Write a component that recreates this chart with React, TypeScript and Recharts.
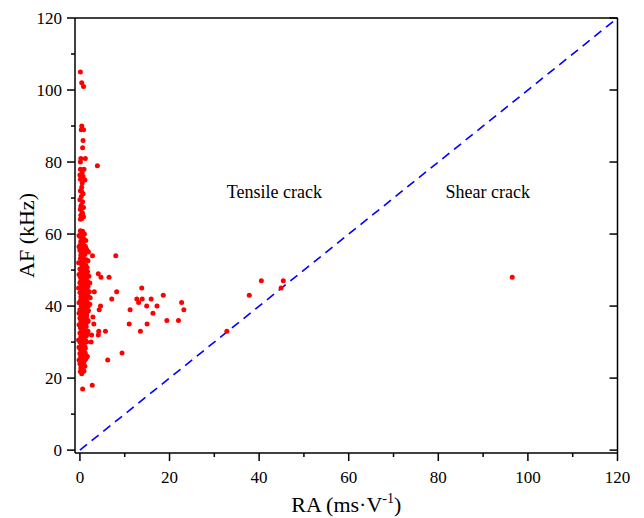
import React from 'react';
import { ScatterChart, Scatter, XAxis, YAxis, ReferenceDot, Label } from 'recharts';

const FONT = '"Liberation Serif", "Times New Roman", serif';

// tick values
const majorTicks = [0, 20, 40, 60, 80, 100, 120];
const allTicks = [0, 10, 20, 30, 40, 50, 60, 70, 80, 90, 100, 110, 120];

// [RA, AF] points, upper tail of the near-zero band (AF > 62 kHz)
const upperTail: [number, number][] = [
  [0.1, 105], [0.4, 102], [0.8, 101], [0.4, 90], [0.3, 89], [0.8, 89], [0.7, 86],
  [0.6, 84], [0.2, 81], [1.2, 81], [0.1, 80], [3.9, 79], [0.1, 78], [0.9, 78],
  [0.5, 77], [0.7, 76], [0.1, 75.2], [1.1, 75], [0.5, 74.2], [0.4, 73], [0.1, 72],
  [0.7, 71.2], [0.3, 70.4], [0.0, 69.5], [0.6, 69], [0.3, 68], [0.8, 67.4],
  [0.1, 66.8], [0.5, 66], [0.2, 65.2], [0.8, 64.8], [0.4, 64.3], [0.1, 64.1],
  [0.0, 76.4], [0.4, 71.8], [0.2, 67.6], [0.6, 65.6],
];

// dense band, RA below ~2.5, AF 21..61 kHz
const denseBand: [number, number][] = [
  [0.1, 60.9], [0.6, 60.8], [0.3, 60.2], [1.0, 60], [-0.2, 59.6],
  [0.0, 59.3], [0.5, 59], [0.9, 58.6], [0.2, 58], [1.3, 58.2],
  [0.7, 57.4], [0.1, 57], [1.2, 56.6], [0.4, 56.2], [-0.2, 56.5],
  [0.0, 55.5], [0.8, 55.2], [0.3, 54.7], [1.1, 54.3], [1.9, 55], [1.6, 55.4],
  [0.5, 53.6], [0.1, 53.2], [1.4, 52.9], [0.7, 52.4], [-0.3, 52], [1.8, 52.6],
  [0.2, 51.8], [1.0, 51.5], [0.5, 51], [1.6, 50.7], [0.0, 50.3], [1.2, 50.1],
  [0.8, 49.8], [0.3, 49.4], [1.3, 49], [0.6, 48.6], [2.0, 48.3], [0.1, 48], [-0.2, 48.8],
  [1.0, 47.6], [0.4, 47.2], [1.7, 46.8], [0.0, 46.5], [0.7, 46.1], [1.3, 45.8], [2.2, 46.4],
  [0.2, 45.4], [0.9, 45], [1.5, 44.7], [0.5, 44.3], [2.1, 44], [0.0, 43.8], [-0.3, 45],
  [1.1, 43.5], [0.6, 43.1], [1.8, 42.8], [0.2, 42.5], [1.3, 42.1], [0.8, 41.8], [2.3, 42.3],
  [0.1, 41.5], [1.6, 41.2], [0.5, 40.8], [2.2, 40.5], [1.0, 40.2], [0.3, 39.9], [-0.2, 40.9],
  [1.4, 39.6], [0.7, 39.3], [0.0, 39], [1.9, 38.7], [0.4, 38.4], [1.1, 38], [-0.2, 38],
  [0.2, 37.7], [1.5, 37.4], [0.8, 37], [0.0, 36.7], [1.2, 36.3], [0.5, 36], [1.8, 36],
  [1.8, 35.7], [0.3, 35.4], [1.0, 35], [0.6, 34.6], [1.4, 34.3], [0.1, 34], [-0.2, 34.8],
  [0.8, 33.6], [0.4, 33.2], [1.2, 32.9], [0.0, 32.5], [1.7, 32.2], [0.6, 31.8], [1.8, 33],
  [0.2, 31.5], [1.0, 31.1], [0.5, 30.7], [1.3, 30.4], [0.0, 30], [-0.3, 30.6], [1.5, 30],
  [0.7, 29.6], [0.3, 29.2], [1.1, 28.8], [0.5, 28.4], [0.1, 28], [-0.2, 28.6],
  [0.9, 27.6], [0.4, 27.2], [0.0, 26.8], [0.7, 26.4], [1.6, 26], [1.2, 27],
  [0.2, 25.6], [0.6, 25.2], [1.0, 24.8], [0.3, 24.4], [0.0, 24], [-0.2, 25],
  [0.5, 23.6], [0.8, 23.2], [0.2, 22.8], [0.6, 22.3], [0.1, 21.8], [0.4, 21.2], [0.9, 22],
  // fill-in
  [0.7, 59.8], [0.3, 57.8], [0.9, 56.4], [0.5, 55.8], [1.4, 55.9], [0.2, 54.1],
  [0.9, 53.1], [1.3, 51.4], [0.4, 50.2], [1.7, 49.5], [0.9, 48.9], [1.5, 47.9],
  [0.2, 46.9], [1.0, 46.3], [1.8, 45.4], [0.6, 45.4], [1.3, 44.2], [0.3, 43.2],
  [1.0, 42.6], [1.6, 43.4], [0.4, 41.6], [1.3, 40.7], [1.8, 39.9], [0.7, 40.3],
  [0.2, 38.9], [1.1, 39.2], [1.6, 38.3], [0.5, 37.4], [1.4, 36.9], [0.9, 36.1],
  [0.2, 35.9], [1.4, 35.3], [0.7, 34.2], [1.1, 33.8], [0.3, 32.8], [1.4, 31.7],
  [0.8, 31.4], [0.3, 30.3], [1.0, 30.1], [0.8, 28.9], [0.3, 28.1], [1.2, 28.3],
  [0.6, 27.3], [0.2, 26.1], [1.0, 25.9], [0.5, 24.7], [0.8, 24.1], [0.3, 23.4],
  [0.6, 21.8], [1.1, 23.3], [1.3, 25.3], [0.7, 50.6], [0.2, 49.2], [0.5, 52.7],
];

// scattered tensile events, RA 1.5..24
const spreadPoints: [number, number][] = [
  [2.8, 54], [8.0, 54], [4.1, 49], [4.7, 48], [6.5, 48], [3.2, 44], [8.2, 44],
  [13.8, 45], [12.7, 42], [13.9, 42], [13.1, 41], [15.9, 42], [18.6, 43], [7.1, 42],
  [22.7, 41], [23.2, 39], [14.9, 40], [17.2, 40], [16.3, 38], [11.2, 39], [4.6, 40],
  [4.3, 39], [19.4, 36], [22.0, 36], [11.0, 35], [15.0, 35], [13.5, 33], [2.9, 37],
  [3.1, 35], [4.2, 33], [5.7, 33], [4.1, 32], [2.6, 32], [2.5, 30], [9.4, 27],
  [6.2, 25], [1.6, 26], [2.75, 18], [0.6, 17],
];

// events near the dividing line and the single shear event
const nearLine: [number, number][] = [
  [32.8, 33], [37.8, 43], [40.5, 47], [45.4, 47], [44.9, 45],
];
const shearPoints: [number, number][] = [[96.5, 48]];

// dividing line RA = AF
const diagRA = [0, 120];
const diagAF = [0, 120];

// region labels
const regionNames = ['Tensile crack', 'Shear crack'];
const regionRA = [32.8, 81.6];
const regionAF = [70, 70];

const points = [...upperTail, ...denseBand, ...spreadPoints, ...nearLine, ...shearPoints].map(
  ([x, y]) => ({ x, y })
);
const diagData = diagRA.map((x, i) => ({ x, y: diagAF[i] }));

const AXIS = { stroke: '#000', strokeWidth: 1.5 };

function makeTick(side: 'bottom' | 'left' | 'top' | 'right', labels: boolean) {
  return (props: any) => {
    const { x, y, payload } = props;
    const v = payload.value;
    const len = v % 20 === 0 ? 8 : 4;
    const showLabel = labels && v % 20 === 0;
    let line;
    let text = null;
    if (side === 'bottom') {
      line = <line x1={x} y1={y} x2={x} y2={y + len} {...AXIS} />;
      if (showLabel)
        text = (
          <text x={x} y={y + 30} textAnchor="middle" fontSize={17} fontFamily={FONT} fill="#000">
            {v}
          </text>
        );
    } else if (side === 'left') {
      line = <line x1={x} y1={y} x2={x - len} y2={y} {...AXIS} />;
      if (showLabel)
        text = (
          <text x={x - 13} y={y + 6} textAnchor="end" fontSize={17} fontFamily={FONT} fill="#000">
            {v}
          </text>
        );
    } else if (side === 'top') {
      line = <line x1={x} y1={y} x2={x} y2={y + len} {...AXIS} />;
    } else {
      line = <line x1={x} y1={y} x2={x - len} y2={y} {...AXIS} />;
    }
    return (
      <g>
        {line}
        {text}
      </g>
    );
  };
}

const XLabel = (props: any) => {
  const vb = props.viewBox || { x: 75, y: 453, width: 542.5 };
  const cx = vb.x + vb.width / 2;
  return (
    <text x={cx} y={vb.y + 59} textAnchor="middle" fontSize={22} fontFamily={FONT} fill="#000">
      <tspan>RA (ms·V</tspan>
      <tspan fontSize={14} dy={-9}>-1</tspan>
      <tspan dy={9}>)</tspan>
    </text>
  );
};

const YLabel = (props: any) => {
  const vb = props.viewBox || { x: 0, y: 18, width: 75, height: 435 };
  const cy = vb.y + vb.height / 2;
  const cx = 34;
  return (
    <text
      x={cx}
      y={cy}
      transform={`rotate(-90, ${cx}, ${cy})`}
      textAnchor="middle"
      fontSize={22}
      fontFamily={FONT}
      fill="#000"
    >
      AF (kHz)
    </text>
  );
};

const Dot = (props: any) => <circle cx={props.cx} cy={props.cy} r={2.5} fill="#ff0000" />;

export default function App() {
  return (
    <div style={{ position: 'absolute', left: 0, top: 0, background: '#fff' }}>
      <ScatterChart width={644} height={518} margin={{ top: 17, right: 25.5, bottom: 0, left: 0 }}>
        <XAxis
          type="number"
          dataKey="x"
          domain={[-1.1, 120]}
          ticks={allTicks}
          interval={0}
          allowDataOverflow
          height={65}
          tickSize={0}
          tickMargin={0}
          tickLine={false}
          axisLine={AXIS}
          tick={makeTick('bottom', true)}
        >
          <Label content={XLabel} />
        </XAxis>
        <XAxis
          xAxisId="top"
          orientation="top"
          type="number"
          domain={[-1.1, 120]}
          ticks={majorTicks}
          interval={0}
          allowDataOverflow
          height={1}
          tickSize={0}
          tickMargin={0}
          tickLine={false}
          axisLine={AXIS}
          tick={makeTick('top', false)}
        />
        <YAxis
          type="number"
          dataKey="y"
          domain={[-0.8, 120]}
          ticks={allTicks}
          interval={0}
          allowDataOverflow
          width={75}
          tickSize={0}
          tickMargin={0}
          tickLine={false}
          axisLine={AXIS}
          tick={makeTick('left', true)}
        >
          <Label content={YLabel} />
        </YAxis>
        <YAxis
          yAxisId="right"
          orientation="right"
          type="number"
          domain={[-0.8, 120]}
          ticks={majorTicks}
          interval={0}
          allowDataOverflow
          width={1}
          tickSize={0}
          tickMargin={0}
          tickLine={false}
          axisLine={AXIS}
          tick={makeTick('right', false)}
        />
        <Scatter
          data={diagData}
          line={{ stroke: '#0000ff', strokeWidth: 1.6, strokeDasharray: '9 6' }}
          shape={() => <g />}
          isAnimationActive={false}
        />
        <Scatter data={points} shape={Dot} isAnimationActive={false} />
        {regionNames.map((name, i) => (
          <ReferenceDot
            key={name}
            x={regionRA[i]}
            y={regionAF[i]}
            r={0}
            ifOverflow="visible"
            shape={(p: any) => (
              <text x={p.cx} y={p.cy} fontSize={18} fontFamily={FONT} fill="#000">
                {name}
              </text>
            )}
          />
        ))}
      </ScatterChart>
    </div>
  );
}
